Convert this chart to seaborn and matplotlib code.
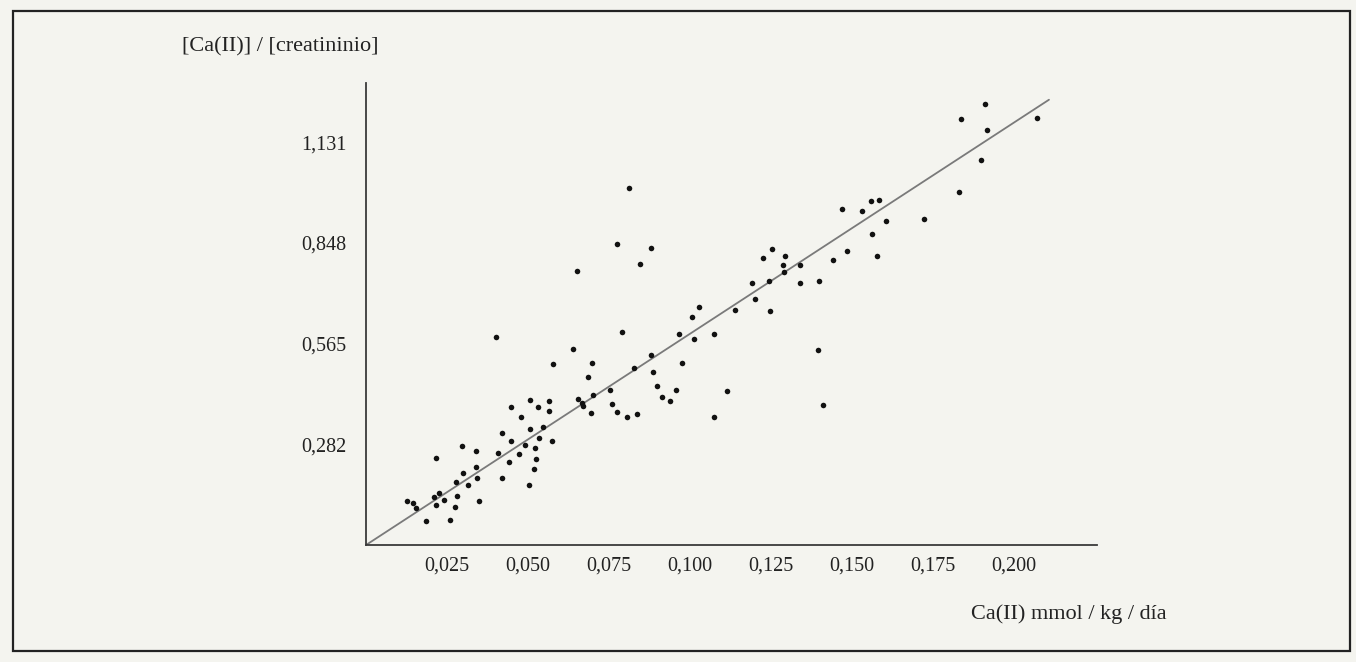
import matplotlib
matplotlib.use("Agg")
import matplotlib.pyplot as plt
from matplotlib.patches import Rectangle
import numpy as np
import pandas as pd
import seaborn as sns

# ---- data ----
ca_intake = [
    0.0684, 0.0655, 0.0702, 0.0668, 0.0671, 0.0694, 0.0507, 0.0564, 0.0530, 0.0564,
    0.0447, 0.0479, 0.0506, 0.0547, 0.0419, 0.0534, 0.0574, 0.0447, 0.0490, 0.0522,
    0.0406, 0.0472, 0.0525, 0.0442, 0.0519, 0.0419, 0.0503, 0.0297, 0.0340, 0.0217,
    0.0339, 0.0300, 0.0342, 0.0279, 0.0316, 0.0225, 0.0210, 0.0281, 0.0241, 0.0350,
    0.0215, 0.0276, 0.0126, 0.0145, 0.0154, 0.0186, 0.0258,
    0.1190, 0.1243, 0.1340, 0.1399, 0.1201, 0.1138, 0.1247, 0.1027, 0.1005, 0.0789,
    0.0966, 0.1011, 0.1075, 0.1396, 0.0697, 0.0879, 0.0974, 0.0828, 0.0887, 0.0752,
    0.0897, 0.0958, 0.1115, 0.0759, 0.0914, 0.0938, 0.0775, 0.0805, 0.0837, 0.1075,
    0.0812, 0.0775, 0.0880, 0.0847, 0.0652, 0.0402, 0.0639, 0.0578,
    0.1470, 0.1532, 0.1558, 0.1583, 0.1605, 0.1723, 0.1561, 0.1484, 0.1576, 0.1441,
    0.1294, 0.1288, 0.1341, 0.1289, 0.1254, 0.1225, 0.1412,
    0.1911, 0.1835, 0.2071, 0.1917, 0.1899, 0.1831,
]
ca_creat = [
    0.4728, 0.4110, 0.4213, 0.3975, 0.3890, 0.3716, 0.4081, 0.4053, 0.3868, 0.3772,
    0.3868, 0.3587, 0.3267, 0.3306, 0.3146, 0.3006, 0.2921, 0.2913, 0.2801, 0.2733,
    0.2576, 0.2548, 0.2407, 0.2323, 0.2126, 0.1874, 0.1694, 0.2772, 0.2632, 0.2452,
    0.2199, 0.2014, 0.1874, 0.1770, 0.1685, 0.1452, 0.1340, 0.1385, 0.1264, 0.1244,
    0.1132, 0.1076, 0.1244, 0.1188, 0.1039, 0.0674, 0.0711,
    0.7351, 0.7407, 0.7351, 0.7416, 0.6910, 0.6601, 0.6581, 0.6685, 0.6404, 0.5975,
    0.5927, 0.5787, 0.5935, 0.5478, 0.5121, 0.5346, 0.5121, 0.4972, 0.4868, 0.4362,
    0.4458, 0.4354, 0.4334, 0.3969, 0.4149, 0.4037, 0.3728, 0.3596, 0.3688, 0.3604,
    1.0028, 0.8463, 0.8343, 0.7885, 0.7705, 0.5843, 0.5497, 0.5093,
    0.9438, 0.9382, 0.9663, 0.9677, 0.9110, 0.9157, 0.8728, 0.8244, 0.8104, 0.8006,
    0.8110, 0.7865, 0.7857, 0.7669, 0.8315, 0.8070, 0.3933,
    1.2374, 1.1958, 1.1986, 1.1649, 1.0815, 0.9902,
]
fit_slope = 5.93          # regression line through the origin
fit_x_end = 0.2108

x_ticks = [0.025, 0.050, 0.075, 0.100, 0.125, 0.150, 0.175, 0.200]
x_tick_labels = ["0,025", "0,050", "0,075", "0,100", "0,125", "0,150", "0,175", "0,200"]
y_ticks = [0.282, 0.565, 0.848, 1.131]
y_tick_labels = ["0,282", "0,565", "0,848", "1,131"]

x_label = "Ca(II) mmol / kg / día"
y_label = "[Ca(II)] / [creatininio]"

# ---- styling ----
sns.set_style("white")
plt.rcParams["font.family"] = ["Liberation Serif", "DejaVu Serif"]
BG = "#f4f4ef"
INK = "#222222"

df = pd.DataFrame({"x": ca_intake, "y": ca_creat})
fit_df = pd.DataFrame({"x": [0.0, fit_x_end], "y": [0.0, fit_slope * fit_x_end]})

fig = plt.figure(figsize=(13.56, 6.62), dpi=100, facecolor=BG)
ax = fig.add_axes([0.2699, 0.1767, 0.5388, 0.6979])
ax.set_facecolor(BG)

sns.lineplot(data=fit_df, x="x", y="y", ax=ax, color="#7a7a7a", linewidth=1.3, zorder=2)
sns.scatterplot(data=df, x="x", y="y", ax=ax, color="#111111", s=16, linewidth=0, zorder=3)

ax.set_xlim(0, 0.2255)
ax.set_ylim(0, 1.297)

for side in ["top", "right"]:
    ax.spines[side].set_visible(False)
for side in ["left", "bottom"]:
    ax.spines[side].set_color("#3a3a3a")
    ax.spines[side].set_linewidth(1.3)

ax.set_xticks(x_ticks)
ax.set_xticklabels(x_tick_labels)
ax.set_yticks(y_ticks)
ax.set_yticklabels(y_tick_labels)
ax.tick_params(axis="x", direction="in", length=8, width=1.2, color="#3a3a3a",
               labelsize=14.5, labelcolor=INK, pad=8)
ax.tick_params(axis="y", direction="in", length=7, width=1.2, color="#3a3a3a",
               labelsize=14.5, labelcolor=INK, pad=14)

ax.set_xlabel(x_label, fontsize=16, color=INK)
ax.xaxis.set_label_coords(0.962, -0.149)
ax.xaxis.label.set_ha("center")
ax.xaxis.label.set_va("center")

ax.set_ylabel(y_label, fontsize=16, color=INK, rotation=0)
ax.yaxis.set_label_coords(-0.118, 1.078)
ax.yaxis.label.set_ha("center")
ax.yaxis.label.set_va("center")

# outer frame of the figure
fig.patches.append(Rectangle((13 / 1356, 11 / 662), (1350 - 13) / 1356, (651 - 11) / 662,
                             transform=fig.transFigure, fill=False,
                             edgecolor=INK, linewidth=1.6))

fig.savefig("out.png", dpi=100, facecolor=BG)
